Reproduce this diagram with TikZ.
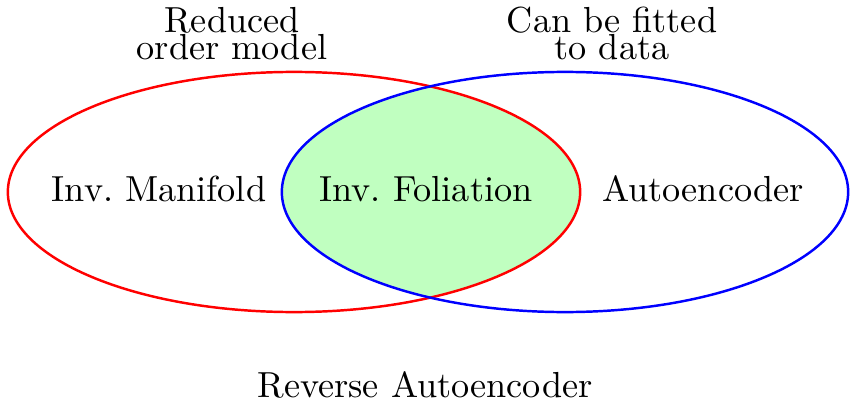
\documentclass[tikz,border=0pt]{standalone}
\usetikzlibrary{shapes.geometric}
\definecolor{interfill}{RGB}{192,255,192}
\tikzset{
  setring/.style={ellipse, draw, line width=0.7pt, inner sep=0pt, minimum width=5.72cm, minimum height=2.40cm},
  lbl/.style={anchor=base, inner sep=0pt, font=\fontsize{10.3}{12}\selectfont},
  toplbl/.style={lbl, align=center}
}
\begin{document}
\begin{tikzpicture}[x=0.01cm, y=-0.01cm]
\useasboundingbox (0,0) rectangle (851,406);
\begin{scope}
  \clip (294,192) ellipse [x radius=2.86cm, y radius=1.20cm];
  \fill[interfill] (565,192) ellipse [x radius=2.83cm, y radius=1.20cm];
\end{scope}
\node[setring, draw=red] (rom) at (294,192) {};
\node[setring, draw=blue, minimum width=5.66cm] (fit) at (565,192) {};
\node[toplbl] (romlbl) at (232,60) {Reduced\\[-4.3pt]order model};
\node[toplbl] (fitlbl) at (612,60) {Can be fitted\\[-4.3pt]to data};
\node[lbl] (man) at (159,201) {Inv.\ Manifold};
\node[lbl] (fol) at (426,201) {Inv.\ Foliation};
\node[lbl] (ae) at (703,201) {Autoencoder};
\node[lbl] (rae) at (425,397) {Reverse Autoencoder};
\end{tikzpicture}
\end{document}
